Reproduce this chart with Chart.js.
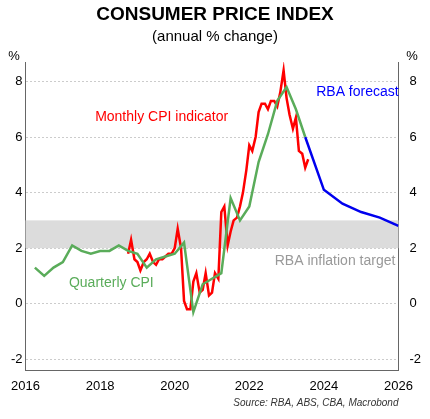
<!DOCTYPE html>
<html>
<head>
<meta charset="utf-8">
<script src="https://cdn.jsdelivr.net/npm/chart.js@4"></script>
<style>
  body { margin: 0; background: #fff; font-family: Arial, "Liberation Sans", sans-serif; }
  #wrap { width: 430px; height: 419px; position: relative; }
</style>
</head>
<body>
<div id="wrap"><canvas id="cpiChart" width="430" height="419"></canvas></div>
<script>
// Quarterly CPI (annual % change)
const quarterlyDates = [2016.25, 2016.5, 2016.75, 2017.0, 2017.25, 2017.5, 2017.75, 2018.0, 2018.25, 2018.5, 2018.75, 2019.0,
  2019.25, 2019.5, 2019.75, 2020.0, 2020.25, 2020.5, 2020.75, 2021.0, 2021.25, 2021.5, 2021.75, 2022.0,
  2022.25, 2022.5, 2022.75, 2023.0, 2023.25, 2023.5];
const quarterlyValues = [1.3, 1.0, 1.3, 1.5, 2.1, 1.9, 1.8, 1.9, 1.9, 2.1, 1.9, 1.8,
  1.3, 1.6, 1.7, 1.8, 2.2, -0.3, 0.7, 0.9, 1.1, 3.8, 3.0, 3.5,
  5.1, 6.1, 7.3, 7.8, 7.0, 6.0];

// Monthly CPI indicator
const monthlyDates = [2018.75, 2018.83, 2018.92, 2019.0, 2019.08, 2019.17, 2019.25, 2019.33, 2019.42, 2019.5, 2019.58, 2019.67,
  2019.75, 2019.83, 2019.92, 2020.0, 2020.08, 2020.17, 2020.25, 2020.33, 2020.42, 2020.5, 2020.58, 2020.67,
  2020.75, 2020.83, 2020.92, 2021.0, 2021.08, 2021.17, 2021.25, 2021.33, 2021.42, 2021.5, 2021.58, 2021.67,
  2021.75, 2021.83, 2021.92, 2022.0, 2022.08, 2022.17, 2022.25, 2022.33, 2022.42, 2022.5, 2022.58, 2022.67,
  2022.75, 2022.83, 2022.92, 2023.0, 2023.08, 2023.17, 2023.25, 2023.33, 2023.42, 2023.5, 2023.58];
const monthlyValues = [1.8, 2.3, 1.6, 1.5, 1.2, 1.5, 1.6, 1.8, 1.5, 1.4, 1.6, 1.6,
  1.7, 1.8, 1.8, 2.0, 2.7, 2.0, 0.1, -0.2, -0.2, 0.8, 1.1, 0.4,
  0.5, 1.1, 0.3, 0.4, 1.1, 0.9, 3.3, 3.5, 2.1, 2.6, 3.0, 3.1,
  3.5, 4.0, 4.8, 5.7, 5.5, 6.0, 6.9, 7.2, 7.2, 7.0, 7.3, 7.3,
  7.1, 7.6, 8.4, 7.4, 6.8, 6.3, 6.7, 5.5, 5.4, 4.9, 5.2];

// RBA forecast
const forecastDates = [2023.5, 2024.0, 2024.5, 2025.0, 2025.5, 2026.0];
const forecastValues = [6.0, 4.1, 3.6, 3.3, 3.1, 2.8];

const targetBand = [2, 3];
const xTicks = [2016, 2018, 2020, 2022, 2024, 2026];
const yTicks = [-2, 0, 2, 4, 6, 8];

function toPoints(xs, ys) {
  return xs.map((x, i) => ({ x: x, y: ys[i] }));
}

const font = 'Arial, "Liberation Sans", sans-serif';

const decorations = {
  id: 'decorations',
  beforeDatasetsDraw(chart) {
    const { ctx, chartArea, scales } = chart;
    const yTop = scales.y.getPixelForValue(targetBand[1]);
    const yBot = scales.y.getPixelForValue(targetBand[0]);
    ctx.save();
    ctx.fillStyle = '#dcdcdc';
    ctx.fillRect(chartArea.left, yTop, chartArea.right - chartArea.left, yBot - yTop);
    ctx.restore();
  },
  afterDraw(chart) {
    const { ctx, chartArea, scales } = chart;
    const x = scales.x, y = scales.y;
    ctx.save();
    ctx.textBaseline = 'middle';
    ctx.font = '14px ' + font;
    ctx.textAlign = 'center';
    ctx.fillStyle = '#ff0000';
    ctx.fillText('Monthly CPI indicator', x.getPixelForValue(2019.65), y.getPixelForValue(6.7));
    ctx.fillStyle = '#0000ff';
    ctx.fillText('RBA forecast', x.getPixelForValue(2024.9), y.getPixelForValue(7.6));
    ctx.fillStyle = '#999999';
    ctx.fillText('RBA inflation target', x.getPixelForValue(2024.3), y.getPixelForValue(1.55));
    ctx.fillStyle = '#5aac5a';
    ctx.fillText('Quarterly CPI', x.getPixelForValue(2018.3), y.getPixelForValue(0.75));

    ctx.fillStyle = '#000';
    ctx.font = 'bold 19px ' + font;
    ctx.fillText('CONSUMER PRICE INDEX', 215, 15);
    ctx.font = '15px ' + font;
    ctx.fillText('(annual % change)', 215, 37);
    ctx.font = '13px ' + font;
    ctx.fillText('%', 14, 56);
    ctx.fillText('%', 412, 56);
    ctx.font = 'italic 10px ' + font;
    ctx.textAlign = 'right';
    ctx.fillStyle = '#333';
    ctx.fillText('Source: RBA, ABS, CBA, Macrobond', chartArea.right, 403);
    ctx.restore();
  }
};

new Chart(document.getElementById('cpiChart').getContext('2d'), {
  type: 'line',
  data: {
    datasets: [
      {
        label: 'RBA forecast',
        data: toPoints(forecastDates, forecastValues),
        borderColor: '#0000ee',
        borderWidth: 2.5,
        pointRadius: 0,
        order: 3
      },
      {
        label: 'Monthly CPI indicator',
        data: toPoints(monthlyDates, monthlyValues),
        borderColor: '#ff0000',
        borderWidth: 2.5,
        pointRadius: 0,
        order: 2
      },
      {
        label: 'Quarterly CPI',
        data: toPoints(quarterlyDates, quarterlyValues),
        borderColor: '#5aac5a',
        borderWidth: 2.5,
        pointRadius: 0,
        order: 1
      }
    ]
  },
  plugins: [decorations],
  options: {
    responsive: false,
    animation: false,
    layout: { padding: { top: 62, left: 8, right: 6, bottom: 22 } },
    plugins: { legend: { display: false }, tooltip: { enabled: false } },
    scales: {
      x: {
        type: 'linear',
        min: 2016, max: 2026,
        afterBuildTicks: axis => { axis.ticks = xTicks.map(v => ({ value: v })); },
        ticks: { color: '#000', font: { size: 13, family: font }, callback: v => String(v), maxRotation: 0 },
        grid: { display: false, tickLength: 5 },
        border: { color: '#666', width: 1 }
      },
      y: {
        min: -2.4, max: 8.7,
        afterBuildTicks: axis => { axis.ticks = yTicks.map(v => ({ value: v })); },
        ticks: { color: '#000', font: { size: 13, family: font } },
        grid: { color: '#cccccc', drawTicks: false, lineWidth: 1 },
        border: { color: '#666', width: 1, dash: [2, 2] }
      },
      y2: {
        position: 'right',
        min: -2.4, max: 8.7,
        afterBuildTicks: axis => { axis.ticks = yTicks.map(v => ({ value: v })); },
        ticks: { color: '#000', font: { size: 13, family: font } },
        grid: { display: false },
        border: { color: '#666', width: 1 }
      }
    }
  }
});
</script>
</body>
</html>
